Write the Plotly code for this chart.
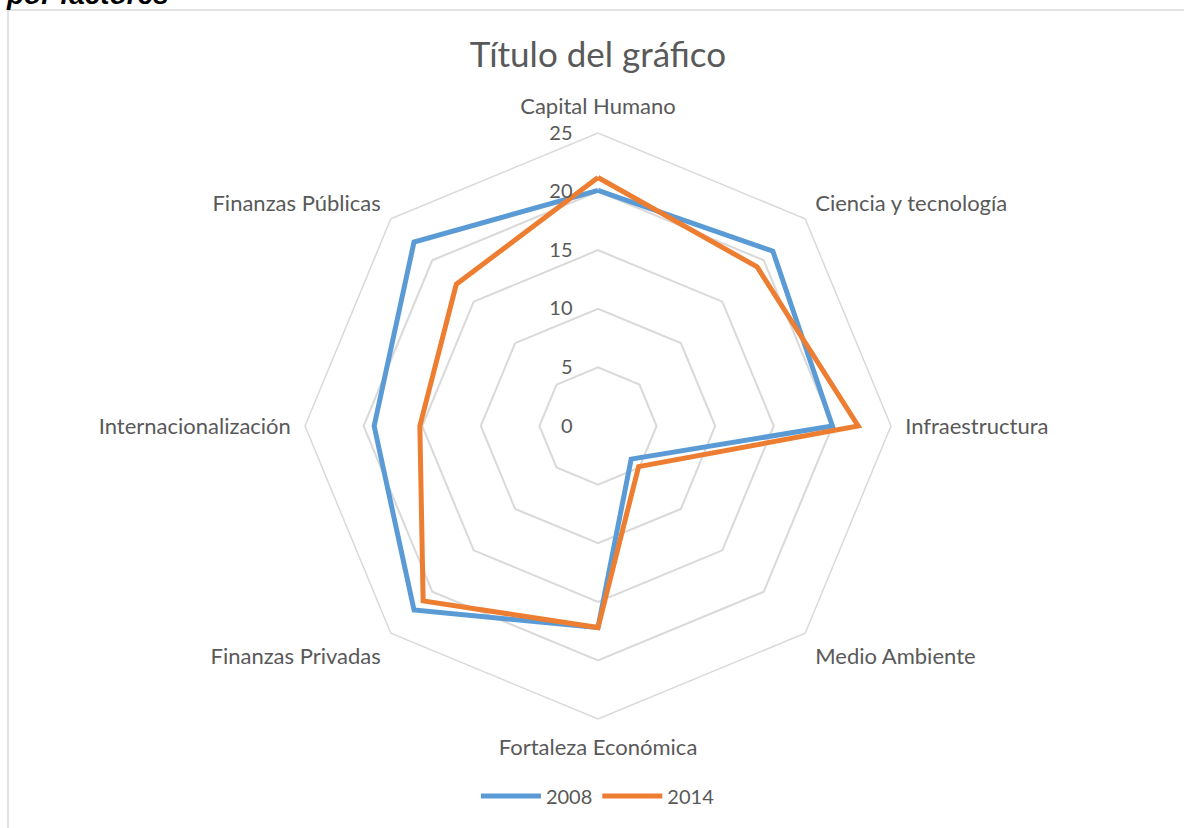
import plotly.graph_objects as go

categories = ["Capital Humano", "Ciencia y tecnología", "Infraestructura", "Medio Ambiente",
              "Fortaleza Económica", "Finanzas Privadas", "Internacionalización", "Finanzas Públicas"]
values_2008 = [20.1, 21.1, 20.0, 4.0, 17.2, 22.2, 19.1, 22.2]
values_2014 = [21.2, 19.2, 22.2, 4.9, 17.2, 21.1, 15.2, 17.1]
series_names = ["2008", "2014"]
series_colors = ["#5B9BD5", "#ED7D31"]
radial_ticks = [0, 5, 10, 15, 20, 25]

W, H = 1184, 828
FONT = "Lato"
GRAY = "#595959"

def px_x(p):
    return p / W

def px_y(p):
    return 1 - p / H

fig = go.Figure()
for name, vals, col in zip(series_names, [values_2008, values_2014], series_colors):
    fig.add_trace(go.Scatterpolar(
        r=vals + [vals[0]],
        theta=categories + [categories[0]],
        mode="lines",
        name=name,
        line=dict(color=col, width=5),
    ))

cx, cy, R = 598, 426, 293
fig.update_layout(
    width=W, height=H,
    margin=dict(l=0, r=0, t=0, b=0),
    paper_bgcolor="white",
    plot_bgcolor="white",
    font=dict(family=FONT, color=GRAY, size=20),
    title=dict(text="Título del gráfico", x=0.505, xanchor="center", y=px_y(55), yanchor="middle",
               yref="paper", font=dict(size=35, color=GRAY, family=FONT)),
    polar=dict(
        domain=dict(x=[px_x(cx - R), px_x(cx + R)], y=[px_y(cy + R), px_y(cy - R)]),
        bgcolor="white",
        gridshape="linear",
        angularaxis=dict(
            categoryorder="array", categoryarray=categories,
            rotation=90, direction="clockwise",
            showgrid=False, showline=True, linecolor="#d9d9d9", linewidth=1.5,
            ticks="outside", ticklen=9, tickcolor="rgba(0,0,0,0)",
            tickfont=dict(size=22, color=GRAY, family=FONT),
        ),
        radialaxis=dict(
            range=[0, 25], tickvals=radial_ticks, angle=90, tickangle=90,
            showline=False, ticks="outside", ticklen=18, tickcolor="rgba(0,0,0,0)",
            gridcolor="#d9d9d9", gridwidth=1.5,
            tickfont=dict(size=20, color=GRAY, family=FONT),
            side="counterclockwise",
        ),
    ),
    legend=dict(orientation="h", x=0.505, xanchor="center", y=px_y(796), yanchor="middle",
                font=dict(size=20, color=GRAY, family=FONT), itemwidth=60),
    shapes=[dict(type="rect", xref="paper", yref="paper",
                 x0=px_x(8), x1=1.05, y0=-0.05, y1=px_y(10),
                 line=dict(color="#d9d9d9", width=1.5), fillcolor="rgba(0,0,0,0)", layer="below")],
    annotations=[dict(text="<b><i>por factores</i></b>", xref="paper", yref="paper",
                      x=px_x(4), y=px_y(12), xanchor="left", yanchor="bottom", showarrow=False,
                      font=dict(size=28, color="black", family="Liberation Sans"))],
)

fig.write_html("out.html", post_script="document.body.style.margin='0';",
               config={"displayModeBar": False})
